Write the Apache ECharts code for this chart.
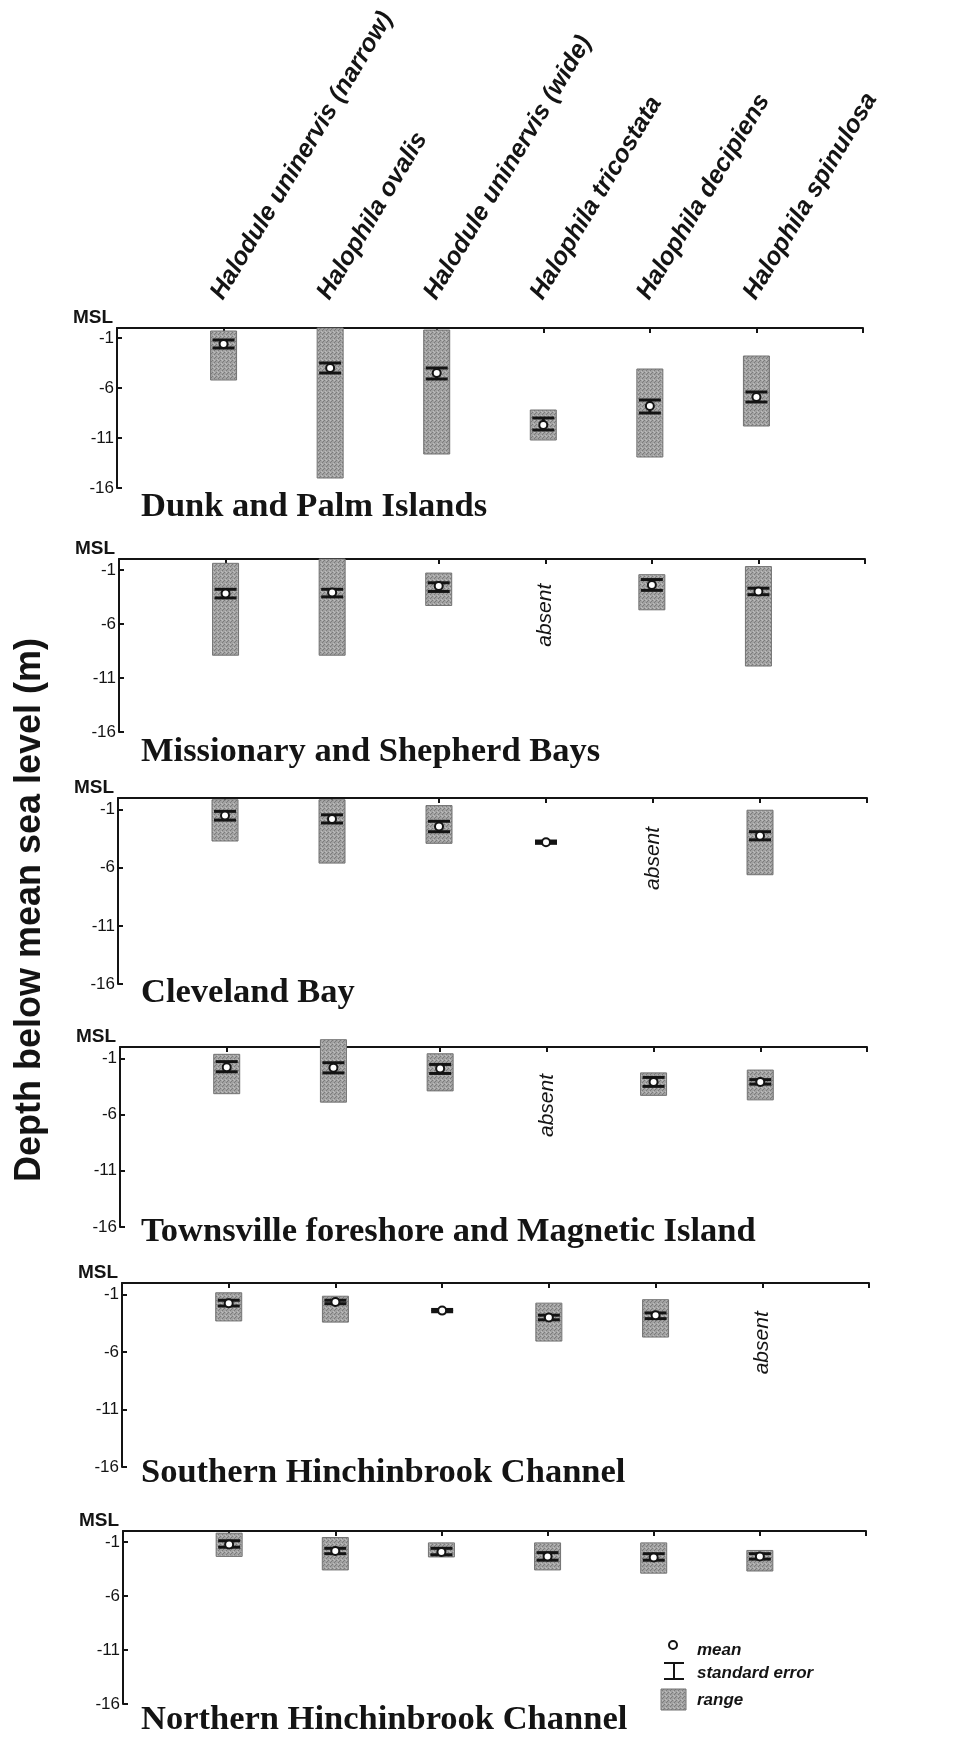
<!DOCTYPE html>
<html>
<head>
<meta charset="utf-8">
<title>Seagrass depth ranges</title>
<script src="https://cdn.jsdelivr.net/npm/echarts@6/dist/echarts.min.js"></script>
<style>
  html, body { margin: 0; padding: 0; background: #fff; }
  #chart { width: 960px; height: 1740px; }
</style>
</head>
<body>
<div id="chart"></div>
<script>
// categories
const species = ['Halodule uninervis (narrow)', 'Halophila ovalis', 'Halodule uninervis (wide)',
  'Halophila tricostata', 'Halophila decipiens', 'Halophila spinulosa'];
const sites = ['Dunk and Palm Islands', 'Missionary and Shepherd Bays', 'Cleveland Bay',
  'Townsville foreshore and Magnetic Island', 'Southern Hinchinbrook Channel', 'Northern Hinchinbrook Channel'];
const depthTicks = [-1, -6, -11, -16];

// depths in m relative to MSL, rows = sites, columns = species
// null in meanDepth = species absent; null in rangeTop = no range drawn
const rangeTop = [
  [-0.3, 0, -0.2, -8.2, -4.1, -2.8],
  [-0.4, 0, -1.3, null, -1.45, -0.7],
  [-0.15, -0.15, -0.65, null, null, -1.05],
  [-0.65, 0.65, -0.6, null, -2.3, -2.05],
  [-0.85, -1.15, null, -1.75, -1.45, null],
  [-0.2, -0.6, -1.1, -1.1, -1.1, -1.8]
];
const rangeBottom = [
  [-5.2, -15.0, -12.6, -11.2, -12.9, -9.8],
  [-8.9, -8.9, -4.3, null, -4.7, -9.9],
  [-3.7, -5.6, -3.9, null, null, -6.6],
  [-4.15, -4.9, -3.9, null, -4.3, -4.7],
  [-3.3, -3.4, null, -5.05, -4.7, null],
  [-2.35, -3.6, -2.4, -3.6, -3.9, -3.7]
];
const meanDepth = [
  [-1.6, -4.0, -4.5, -9.7, -7.8, -6.9],
  [-3.2, -3.1, -2.5, null, -2.4, -3.0],
  [-1.5, -1.8, -2.45, -3.8, null, -3.25],
  [-1.8, -1.85, -1.9, null, -3.1, -3.1],
  [-1.75, -1.65, -2.4, -3.0, -2.8, null],
  [-1.25, -1.85, -1.95, -2.35, -2.45, -2.35]
];
const seTop = [
  [-1.2, -3.5, -4.0, -9.0, -7.2, -6.4],
  [-2.8, -2.8, -2.2, null, -1.9, -2.7],
  [-1.15, -1.45, -2.0, -3.7, null, -2.9],
  [-1.3, -1.4, -1.55, null, -2.7, -2.9],
  [-1.5, -1.5, -2.3, -2.8, -2.6, null],
  [-0.9, -1.6, -1.6, -2.0, -2.1, -2.1]
];
const seBottom = [
  [-2.0, -4.5, -5.1, -10.2, -8.5, -7.4],
  [-3.6, -3.5, -3.0, null, -2.9, -3.3],
  [-1.9, -2.15, -2.9, -3.9, null, -3.6],
  [-2.2, -2.3, -2.35, null, -3.5, -3.3],
  [-2.0, -1.8, -2.5, -3.2, -3.1, null],
  [-1.5, -2.1, -2.2, -2.7, -2.7, -2.6]
];

// layout (px) of each panel: left, top (MSL line), right, bottom (-16 m)
const panels = [
  { l: 117, t: 328, r: 863, b: 488, titleY: 490 },
  { l: 119, t: 559, r: 865, b: 732, titleY: 735 },
  { l: 118, t: 798, r: 867, b: 984, titleY: 976 },
  { l: 120, t: 1047, r: 867, b: 1227, titleY: 1215 },
  { l: 122, t: 1283, r: 869, b: 1467, titleY: 1456 },
  { l: 123, t: 1531, r: 866, b: 1704, titleY: 1703 }
];

const INK = '#141414';
const RANGE_W = 26;
const CAP_W = 22;
const ABSENT_AT = -5.2;
const SANS = '"Liberation Sans", Arial, Helvetica, sans-serif';
const SERIF = '"Liberation Serif", "Times New Roman", serif';

// stippled grey used for the range boxes
function stipple() {
  const c = document.createElement('canvas');
  c.width = 4; c.height = 4;
  const g = c.getContext('2d');
  g.fillStyle = '#a2a2a2'; g.fillRect(0, 0, 4, 4);
  g.fillStyle = '#7c7c7c';
  g.fillRect(0, 0, 1, 1); g.fillRect(2, 2, 1, 1); g.fillRect(3, 1, 1, 1);
  g.fillStyle = '#bdbdbd';
  g.fillRect(1, 3, 1, 1); g.fillRect(2, 0, 1, 1);
  return c;
}
const RANGE_FILL = { image: stipple(), repeat: 'repeat' };

function drawSpecies(params, api) {
  const cat = api.value(0);
  const mean = api.value(3);
  if (isNaN(mean)) {
    const p = api.coord([cat, ABSENT_AT]);
    return {
      type: 'text', x: p[0], y: p[1], rotation: Math.PI / 2,
      style: { text: 'absent', fill: INK, fontStyle: 'italic', fontSize: 21, fontFamily: SANS,
        align: 'center', verticalAlign: 'middle' }
    };
  }
  const kids = [];
  const rTop = api.value(1), rBot = api.value(2);
  if (!isNaN(rTop)) {
    const a = api.coord([cat, rTop]);
    const b = api.coord([cat, rBot]);
    kids.push({
      type: 'rect',
      shape: { x: a[0] - RANGE_W / 2, y: a[1], width: RANGE_W, height: b[1] - a[1] },
      style: { fill: RANGE_FILL, stroke: '#737373', lineWidth: 1 }
    });
  }
  const s1 = api.coord([cat, api.value(4)]);
  const s2 = api.coord([cat, api.value(5)]);
  const ink = { stroke: INK, lineWidth: 3 };
  kids.push({ type: 'line', shape: { x1: s1[0], y1: s1[1], x2: s2[0], y2: s2[1] }, style: ink });
  kids.push({ type: 'line', shape: { x1: s1[0] - CAP_W / 2, y1: s1[1], x2: s1[0] + CAP_W / 2, y2: s1[1] }, style: ink });
  kids.push({ type: 'line', shape: { x1: s2[0] - CAP_W / 2, y1: s2[1], x2: s2[0] + CAP_W / 2, y2: s2[1] }, style: ink });
  const m = api.coord([cat, mean]);
  kids.push({ type: 'circle', shape: { cx: m[0], cy: m[1], r: 4 }, style: { fill: '#fff', stroke: INK, lineWidth: 2 } });
  return { type: 'group', children: kids };
}

function drawSpeciesName(params, api) {
  const p = api.coord([api.value(0), 0]);
  return {
    type: 'text', x: p[0] + 4, y: p[1] - 24, rotation: 59 * Math.PI / 180,
    style: { text: species[params.dataIndex], fill: INK, fontStyle: 'italic', fontWeight: 'bold',
      fontSize: 25, fontFamily: SANS, align: 'left', verticalAlign: 'bottom' }
  };
}

const grid = [], xAxis = [], yAxis = [], series = [], graphic = [];

panels.forEach(function (pn, i) {
  grid.push({ left: pn.l, top: pn.t, width: pn.r - pn.l, height: pn.b - pn.t });
  xAxis.push({
    type: 'value', gridIndex: i, min: 0, max: 7, interval: 1, position: 'top',
    axisLine: { onZero: false, lineStyle: { color: INK, width: 2 } },
    axisTick: { show: true, inside: true, length: 5, lineStyle: { color: INK, width: 2 } },
    axisLabel: { show: false }, splitLine: { show: false }
  });
  yAxis.push({
    type: 'value', gridIndex: i, min: -16, max: 0, interval: 5,
    name: 'MSL', nameLocation: 'end', nameGap: 1,
    nameTextStyle: { color: INK, fontSize: 19, fontWeight: 'bold', fontFamily: SANS,
      align: 'right', verticalAlign: 'bottom', padding: [0, 4, 0, 0] },
    axisLine: { onZero: false, lineStyle: { color: INK, width: 2 } },
    axisTick: { show: true, inside: true, length: 5, lineStyle: { color: INK, width: 2 } },
    axisLabel: {
      color: INK, fontSize: 17, fontFamily: SANS, margin: 3,
      formatter: function (v) { return depthTicks.indexOf(v) >= 0 ? String(v) : ''; }
    },
    splitLine: { show: false }
  });
  series.push({
    type: 'custom', name: sites[i], xAxisIndex: i, yAxisIndex: i,
    renderItem: drawSpecies, clip: false, silent: true,
    data: species.map(function (s, j) {
      return [j + 1, rangeTop[i][j], rangeBottom[i][j], meanDepth[i][j], seTop[i][j], seBottom[i][j]];
    })
  });
  graphic.push({
    type: 'text', left: 141, top: pn.titleY,
    style: { text: sites[i], fill: INK, fontSize: 34.5, fontWeight: 'bold', fontFamily: SERIF }
  });
});

series.push({
  type: 'custom', name: 'species', xAxisIndex: 0, yAxisIndex: 0,
  renderItem: drawSpeciesName, clip: false, silent: true,
  data: species.map(function (s, j) { return [j + 1]; })
});

// y axis title
graphic.push({
  type: 'text', x: 30, y: 910, rotation: Math.PI / 2,
  style: { text: 'Depth below mean sea level (m)', fill: INK, fontSize: 36, fontWeight: 'bold',
    fontFamily: SANS, align: 'center', verticalAlign: 'middle' }
});

// legend
const legendFont = { fill: INK, fontSize: 17, fontWeight: 'bold', fontStyle: 'italic', fontFamily: SANS, verticalAlign: 'middle' };
graphic.push(
  { type: 'circle', shape: { cx: 673, cy: 1645, r: 4 }, style: { fill: '#fff', stroke: INK, lineWidth: 2 } },
  { type: 'text', x: 697, y: 1650, style: Object.assign({ text: 'mean' }, legendFont) },
  { type: 'line', shape: { x1: 674, y1: 1663, x2: 674, y2: 1679 }, style: { stroke: INK, lineWidth: 2 } },
  { type: 'line', shape: { x1: 664, y1: 1663, x2: 684, y2: 1663 }, style: { stroke: INK, lineWidth: 2 } },
  { type: 'line', shape: { x1: 664, y1: 1679, x2: 684, y2: 1679 }, style: { stroke: INK, lineWidth: 2 } },
  { type: 'text', x: 697, y: 1673, style: Object.assign({ text: 'standard error' }, legendFont) },
  { type: 'rect', shape: { x: 661, y: 1689, width: 25, height: 21 }, style: { fill: RANGE_FILL, stroke: '#737373', lineWidth: 1 } },
  { type: 'text', x: 697, y: 1700, style: Object.assign({ text: 'range' }, legendFont) }
);

const chart = echarts.init(document.getElementById('chart'), null, { renderer: 'canvas' });
chart.setOption({
  backgroundColor: '#fff',
  animation: false,
  grid: grid,
  xAxis: xAxis,
  yAxis: yAxis,
  series: series,
  graphic: graphic
});
</script>
</body>
</html>
